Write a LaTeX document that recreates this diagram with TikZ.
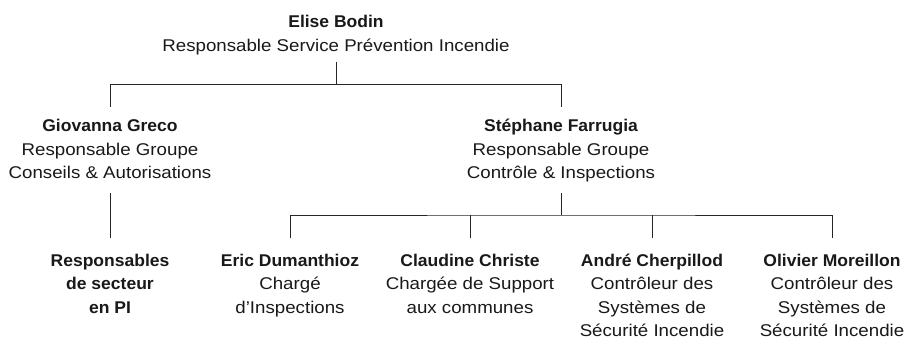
\documentclass[tikz,border=0pt]{standalone}
\usepackage{fontspec}
\setmainfont{Liberation Sans}[FakeStretch=1.10]
\newfontfamily\nmfont{Liberation Sans}[FakeStretch=1.03]
\newcommand{\nm}[1]{{\nmfont\bfseries\rule{0pt}{13.5pt}#1}}
\begin{document}
\begin{tikzpicture}[x=1pt,y=-1pt,
  person/.style={align=center,inner sep=0pt,anchor=north,text=black!90,
    font=\fontsize{17}{23.5}\selectfont},
  link/.style={draw=black!85,line width=0.9pt}]
\useasboundingbox[fill=white] (0,0) rectangle (906,340);
% people
\node[person] (elise) at (336,13.8) {\nm{Elise Bodin}\\Responsable Service Prévention Incendie};
\node[person] (gio) at (110,118.2) {\nm{Giovanna Greco}\\Responsable Groupe\\Conseils \& Autorisations};
\node[person] (steph) at (561,118.2) {\nm{Stéphane Farrugia}\\Responsable Groupe\\Contrôle \& Inspections};
\node[person] (resp) at (110,252.5) {\nm{Responsables}\\\nm{de secteur}\\\nm{en PI}};
\node[person] (eric) at (290,252.5) {\nm{Eric Dumanthioz}\\Chargé\\d’Inspections};
\node[person] (claud) at (470,252.5) {\nm{Claudine Christe}\\Chargée de Support\\aux communes};
\node[person] (andre) at (652,252.5) {\nm{André Cherpillod}\\Contrôleur des\\Systèmes de\\Sécurité Incendie};
\node[person] (oliv) at (832,252.5) {\nm{Olivier Moreillon}\\Contrôleur des\\Systèmes de\\Sécurité Incendie};
% connector points
\coordinate (eliseout) at (336,61.7);
\coordinate (j1) at (336,84.3);
\coordinate (gioin) at (110,106.7);
\coordinate (stephin) at (561,106.7);
\coordinate (gioout) at (110,193.3);
\coordinate (respin) at (110,238.3);
\coordinate (stephout) at (561,193.3);
\coordinate (j2) at (561,215);
\coordinate (ericin) at (290,238.3);
\coordinate (claudin) at (470,238.3);
\coordinate (andrein) at (652,238.3);
\coordinate (olivin) at (832,238.3);
% connectors
\path[link] (eliseout) -- (j1);
\path[link] (gioin) |- (j1) -| (stephin);
\path[link] (gioout) -- (respin);
\path[link] (stephout) -- (j2);
\path[link] (ericin) |- (j2) -| (olivin);
\path[link] (claudin) -- (claudin |- j2);
\path[link] (andrein) -- (andrein |- j2);
\end{tikzpicture}
\end{document}
